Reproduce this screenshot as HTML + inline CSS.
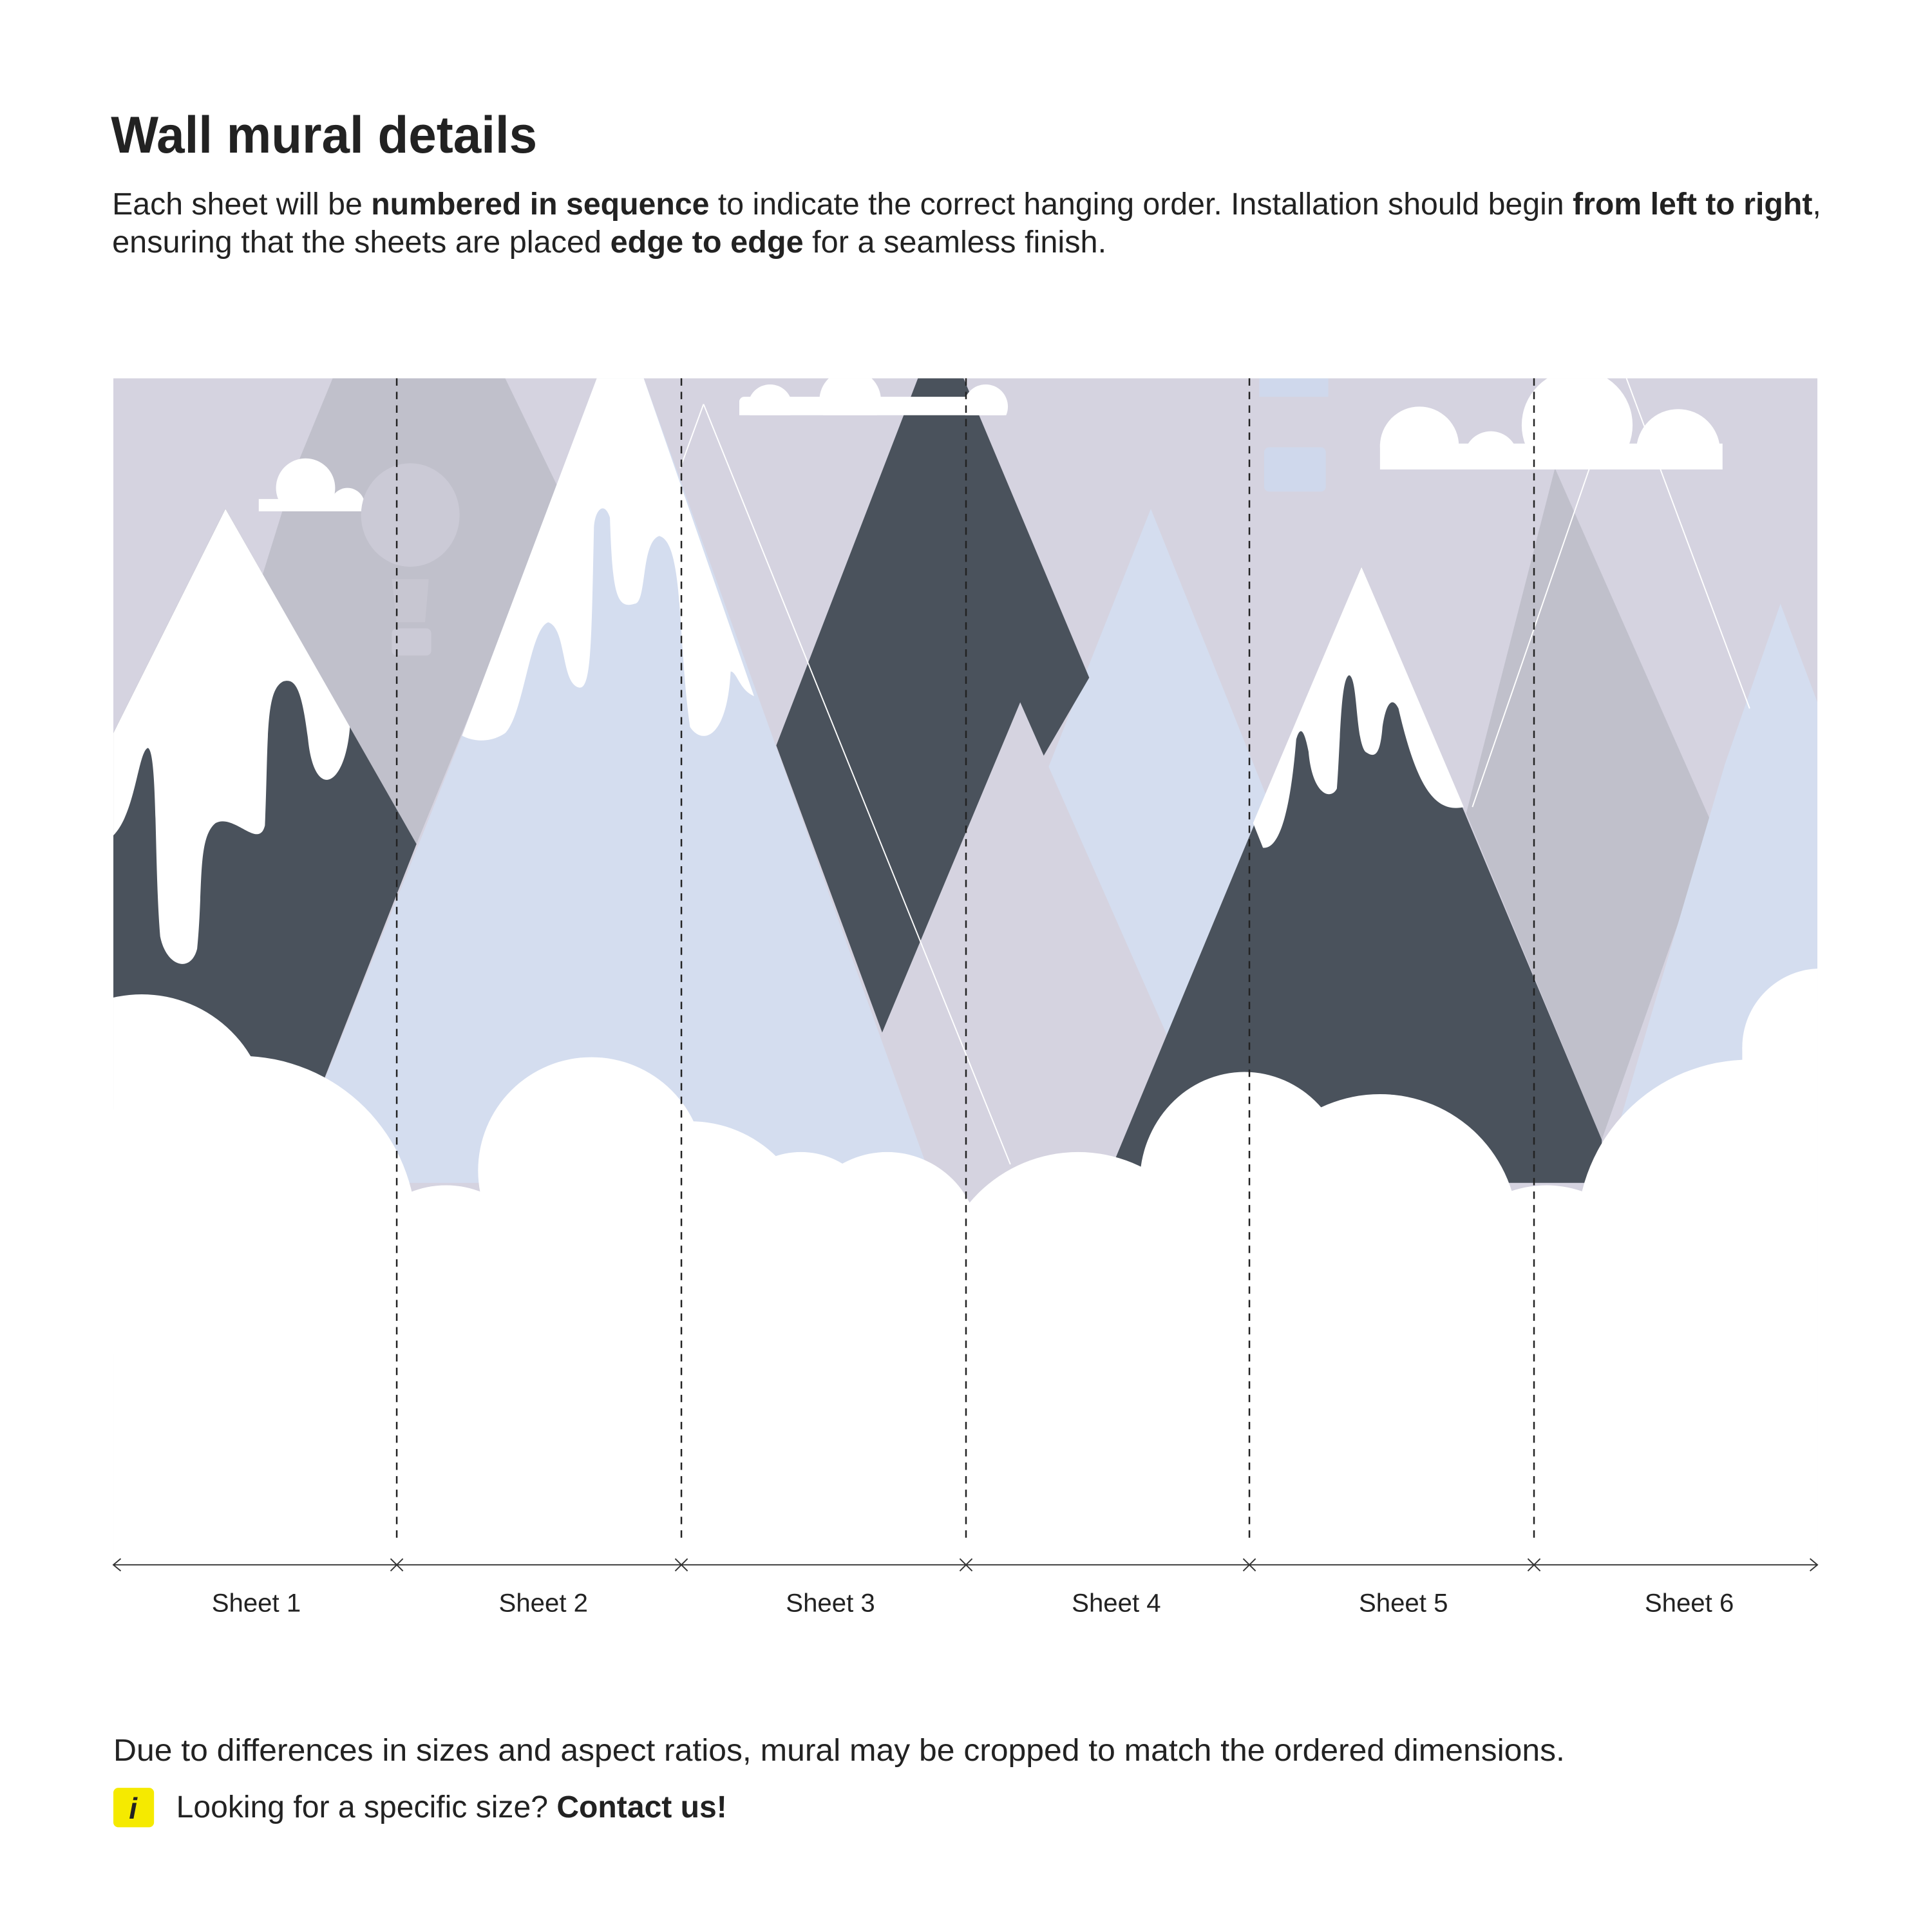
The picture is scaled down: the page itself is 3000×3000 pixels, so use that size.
<!DOCTYPE html>
<html><head><meta charset="utf-8"><style>
html,body{margin:0;padding:0;background:#fff;}
svg{display:block;}
text{font-family:"Liberation Sans",sans-serif;fill:#222;}
</style></head><body>
<svg width="3000" height="3000" viewBox="0 0 1568 1568" xmlns="http://www.w3.org/2000/svg">
<defs>
<clipPath id="m"><rect x="92" y="307" width="1383" height="960"/></clipPath>
<clipPath id="c1"><rect x="0" y="0" width="1560" height="415"/></clipPath>
<clipPath id="c3"><rect x="0" y="0" width="1560" height="337"/></clipPath>
<clipPath id="c5"><rect x="0" y="0" width="1560" height="381"/></clipPath>
</defs>
<text x="90" y="124" font-size="42" font-weight="bold" textLength="346" lengthAdjust="spacingAndGlyphs">Wall mural details</text>
<text x="91" y="174" font-size="25" textLength="1387" lengthAdjust="spacingAndGlyphs">Each sheet will be <tspan font-weight="bold">numbered in sequence</tspan> to indicate the correct hanging order. Installation should begin <tspan font-weight="bold">from left to right</tspan>,</text>
<text x="91" y="205" font-size="25" textLength="807" lengthAdjust="spacingAndGlyphs">ensuring that the sheets are placed <tspan font-weight="bold">edge to edge</tspan> for a seamless finish.</text>

<g clip-path="url(#m)">
<rect x="92" y="307" width="1383" height="960" fill="#d5d3e0"/>
<polygon points="270,307 410,307 455,400 338,685 212,470 240,380" fill="#c0c0cb"/>
<polygon points="1262,380 1390,670 1300,925 1190,660" fill="#c0c0cb"/>
<polygon points="934,413 1130,900 741,900" fill="#d4ddef"/>
<polygon points="1445,490 1475,570 1475,960 1300,960 1400,620" fill="#d4ddef"/>
<line x1="1320" y1="307" x2="1420" y2="575" stroke="#fff" stroke-width="1"/>
<line x1="1290" y1="380" x2="1195" y2="655" stroke="#fff" stroke-width="1"/>
<polygon points="183,413 338,685 230,960 92,960 92,595" fill="#4a525c"/>
<path d="M92,595 L183,413 L284,590 C280,640 255,650 250,600 C245,560 240,550 230,553 C215,560 218,600 215,670 C210,690 190,660 175,668 C160,680 165,720 160,770 C155,790 135,785 130,760 C125,700 128,610 120,607 C112,610 110,660 92,678 Z" fill="#fff"/>
<polygon points="745,307 782,307 884,550 716,838 630,605" fill="#4a525c"/>
<polygon points="828,570 1000,960 665,960" fill="#d5d3e0"/>
<polygon points="487,300 520,300 757,960 230,960 375,597" fill="#d4ddef"/>
<path d="M375,597 L487,300 L520,300 L612,565 C600,560 598,545 593,545 C590,600 570,605 560,590 C550,520 555,440 535,435 C520,440 525,490 515,490 C500,495 497,480 495,420 C490,405 482,415 482,430 C480,520 480,560 470,558 C455,555 460,510 445,505 C430,510 425,580 410,595 C395,605 380,600 375,597 Z" fill="#fff"/>
<line x1="571" y1="328" x2="820" y2="945" stroke="#fff" stroke-width="1"/>
<line x1="571" y1="328" x2="552" y2="380" stroke="#fff" stroke-width="1"/>
<polygon points="1105,460 1300,925 1300,960 897,960" fill="#4a525c"/>
<path d="M1017,668 L1105,460 L1188,655 C1165,660 1150,640 1135,575 C1130,565 1125,570 1122,590 C1120,615 1115,615 1108,610 C1100,600 1102,550 1095,548 C1088,550 1088,600 1085,640 C1080,650 1065,645 1062,610 C1058,590 1055,590 1052,600 C1048,650 1040,690 1025,688 Z" fill="#fff"/>
<g fill="#fff">
<g clip-path="url(#c3)">
<rect x="600" y="322" width="215" height="20" rx="4"/>
<circle cx="625" cy="330" r="18"/><circle cx="690" cy="325" r="25"/><circle cx="800" cy="330" r="18"/>
</g>
<g clip-path="url(#c5)">
<circle cx="1152" cy="362" r="32"/><circle cx="1210" cy="372" r="22"/><circle cx="1280" cy="345" r="45"/><circle cx="1362" cy="366" r="34"/>
<rect x="1120" y="360" width="278" height="30"/>
</g>
<g clip-path="url(#c1)">
<circle cx="248" cy="396" r="24"/><circle cx="282" cy="410" r="14"/>
<rect x="210" y="405" width="85" height="12"/>
</g>
</g>
<ellipse cx="333" cy="418" rx="40" ry="42" fill="#cbcad6"/>
<polygon points="318,470 348,470 345,505 322,505" fill="#cbcad6" opacity="0.6"/>
<rect x="318" y="510" width="32" height="22" rx="4" fill="#cbcad6"/>
<rect x="1026" y="363" width="50" height="36" rx="4" fill="#cfd8ec"/>
<rect x="1022" y="307" width="56" height="15" fill="#cfd8ec"/>
<g fill="#fff">
<rect x="92" y="990" width="1383" height="280"/>
<circle cx="115" cy="910" r="103"/>
<circle cx="195" cy="1000" r="143"/>
<circle cx="362" cy="1040" r="78"/>
<circle cx="480" cy="950" r="92"/>
<rect x="392" y="950" width="180" height="60"/>
<circle cx="560" cy="1010" r="100"/>
<circle cx="650" cy="1000" r="65"/>
<circle cx="720" cy="1010" r="75"/>
<circle cx="875" cy="1050" r="115"/>
<ellipse cx="1010" cy="960" rx="85" ry="90"/>
<circle cx="1120" cy="1000" r="112"/>
<circle cx="1255" cy="1050" r="88"/>
<circle cx="1420" cy="1000" r="140"/>
<circle cx="1478" cy="850" r="64"/>
<rect x="1414" y="850" width="70" height="160"/>
</g>
</g>
<g stroke="#222" stroke-width="1.3" stroke-dasharray="6,5">
<line x1="322" y1="307" x2="322" y2="1250"/><line x1="553" y1="307" x2="553" y2="1250"/>
<line x1="784" y1="307" x2="784" y2="1250"/><line x1="1014" y1="307" x2="1014" y2="1250"/>
<line x1="1245" y1="307" x2="1245" y2="1250"/>
</g>
<g stroke="#333" stroke-width="1" fill="none">
<line x1="92" y1="1270" x2="1475" y2="1270"/>
<polyline points="98,1265 92,1270 98,1275"/><polyline points="1469,1265 1475,1270 1469,1275"/>
<path d="M317,1265l10,10M327,1265l-10,10M548,1265l10,10M558,1265l-10,10M779,1265l10,10M789,1265l-10,10M1009,1265l10,10M1019,1265l-10,10M1240,1265l10,10M1250,1265l-10,10"/>
</g>
<g font-size="21" text-anchor="middle">
<text x="208" y="1308">Sheet 1</text><text x="441" y="1308">Sheet 2</text><text x="674" y="1308">Sheet 3</text>
<text x="906" y="1308">Sheet 4</text><text x="1139" y="1308">Sheet 5</text><text x="1371" y="1308">Sheet 6</text>
</g>
<text x="92" y="1429" font-size="25" textLength="1178" lengthAdjust="spacingAndGlyphs">Due to differences in sizes and aspect ratios, mural may be cropped to match the ordered dimensions.</text>
<rect x="92" y="1451" width="33" height="32" rx="4" fill="#f5ea00"/>
<text x="108" y="1476" font-size="24" font-weight="bold" font-style="italic" text-anchor="middle" font-family="Liberation Serif">i</text>
<text x="143" y="1475" font-size="25" textLength="447" lengthAdjust="spacingAndGlyphs">Looking for a specific size? <tspan font-weight="bold">Contact us!</tspan></text>
</svg>
</body></html>
